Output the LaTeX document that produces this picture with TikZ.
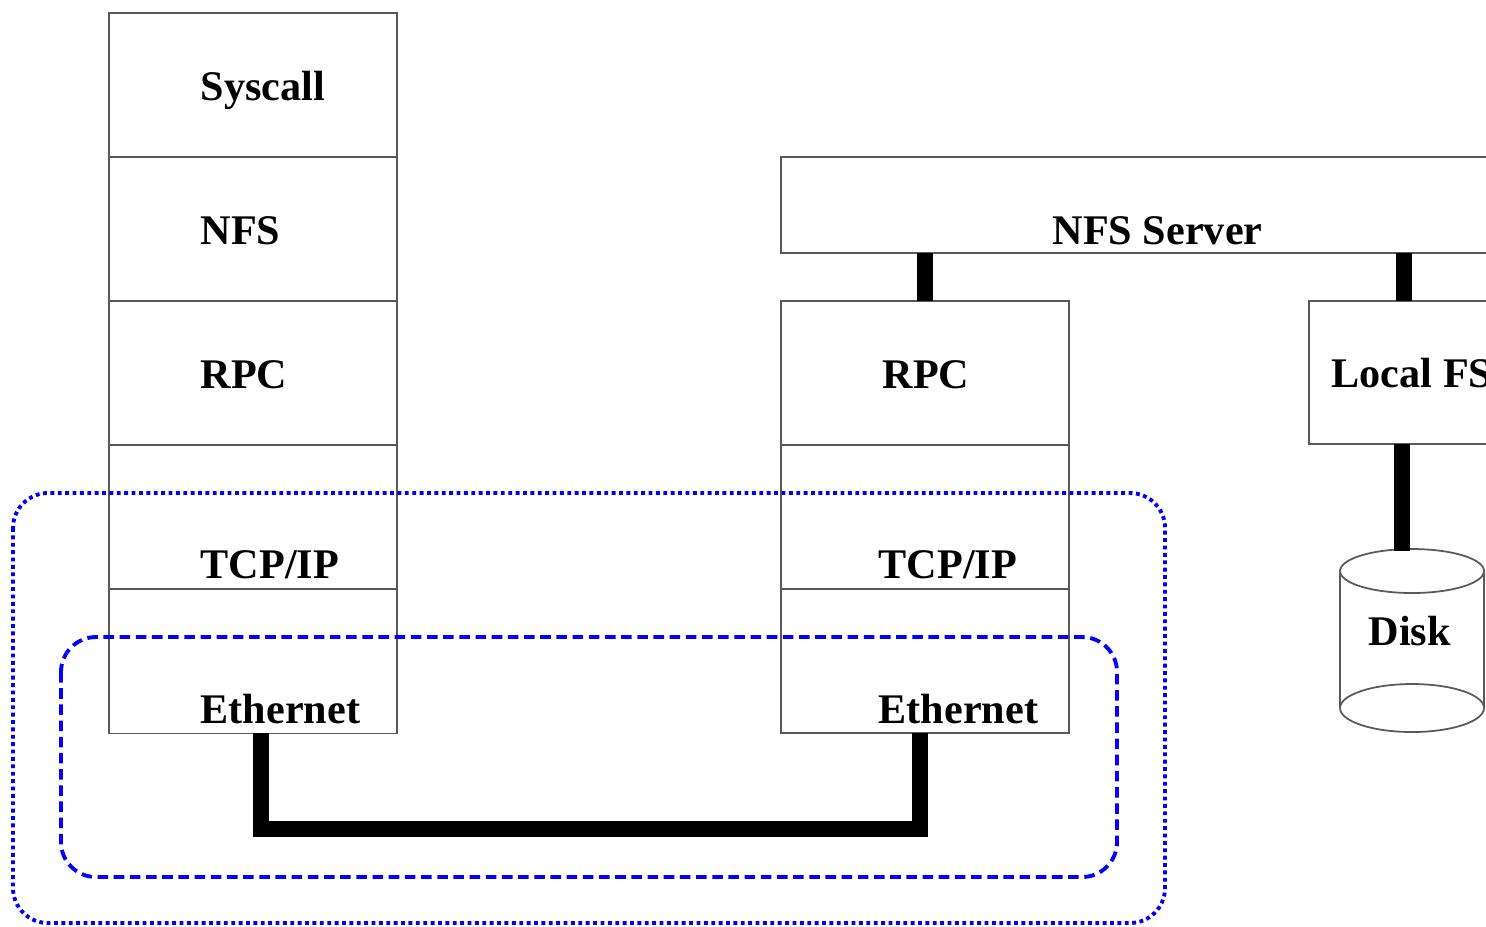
\documentclass[tikz,border=0pt]{standalone}
\usepackage{fontspec}
\setmainfont{Liberation Serif}
\usetikzlibrary{positioning}

\begin{document}
\begin{tikzpicture}[x=0.01cm,y=-0.01cm,
  layer/.style={draw=black!65,line width=0.5pt,minimum width=2.88cm,
    minimum height=1.44cm,inner sep=0,outer sep=0,anchor=north west},
  lbl/.style={font=\fontsize{12}{14}\selectfont\bfseries,inner sep=0,anchor=base west},
  link/.style={line width=0.155cm},
  zone/.style={draw=blue,line width=1.1pt,rounded corners=0.35cm}]
\useasboundingbox (0,0) rectangle (1486,926);
\clip (0,0) rectangle (1486,926);
% client side
\node[layer] (sys) at (109,13) {};
\node[layer,below=0pt of sys] (nfs) {};
\node[layer,below=0pt of nfs] (rpcA) {};
\node[layer,below=0pt of rpcA] (tcpA) {};
\node[layer,below=0pt of tcpA] (ethA) {};
\node[lbl] (tSys) at (200,100) {Syscall};
\node[lbl] (tNfs) at (200,244) {NFS};
\node[lbl] (tRpcA) at (200,388) {RPC};
\node[lbl] (tTcpA) at (200,578) {TCP/IP};
\node[lbl] (tEthA) at (200,723) {Ethernet};
% server side
\node[layer,minimum width=7.6cm,minimum height=0.96cm] (srv) at (781,157) {};
\node[layer] (rpcB) at (781,301) {};
\node[layer,below=0pt of rpcB] (tcpB) {};
\node[layer,below=0pt of tcpB] (ethB) {};
\node[layer,minimum width=2.2cm,minimum height=1.43cm] (lfs) at (1309,301) {};
\node[lbl] (tSrv) at (1052,244) {NFS Server};
\node[lbl] (tRpcB) at (882,388) {RPC};
\node[lbl] (tTcpB) at (878,578) {TCP/IP};
\node[lbl] (tEthB) at (878,723) {Ethernet};
\node[lbl] (tLfs) at (1331,387) {Local FS};
% disk
\node[minimum width=1.44cm,minimum height=1.84cm,inner sep=0] (disk) at (1412,640) {};
\draw[black!65,line width=0.5pt] (1340,571) -- (1340,708) (1484,571) -- (1484,708);
\draw[black!65,line width=0.5pt] (1412,571) ellipse [x radius=72, y radius=22];
\draw[black!65,line width=0.5pt] (1412,708) ellipse [x radius=72, y radius=24];
\node[lbl] (tDisk) at (1368,645) {Disk};
% links
\draw[link] (925,0 |- srv.south) -- (925,0 |- rpcB.north);
\draw[link] (1404,0 |- srv.south) -- (1404,0 |- lfs.north);
\draw[link] (1402,0 |- lfs.south) -- (1402,0 |- disk.north) -- +(0,4);
\draw[link] (261,0 |- ethA.south) |- (920,829) -- (920,0 |- ethB.south);
% scopes
\draw[zone,dash pattern=on 1.1pt off 1.0pt] (13,493) rectangle (1165,923);
\draw[zone,dash pattern=on 3pt off 1.6pt] (61,637) rectangle (1117,877);
\end{tikzpicture}
\end{document}
